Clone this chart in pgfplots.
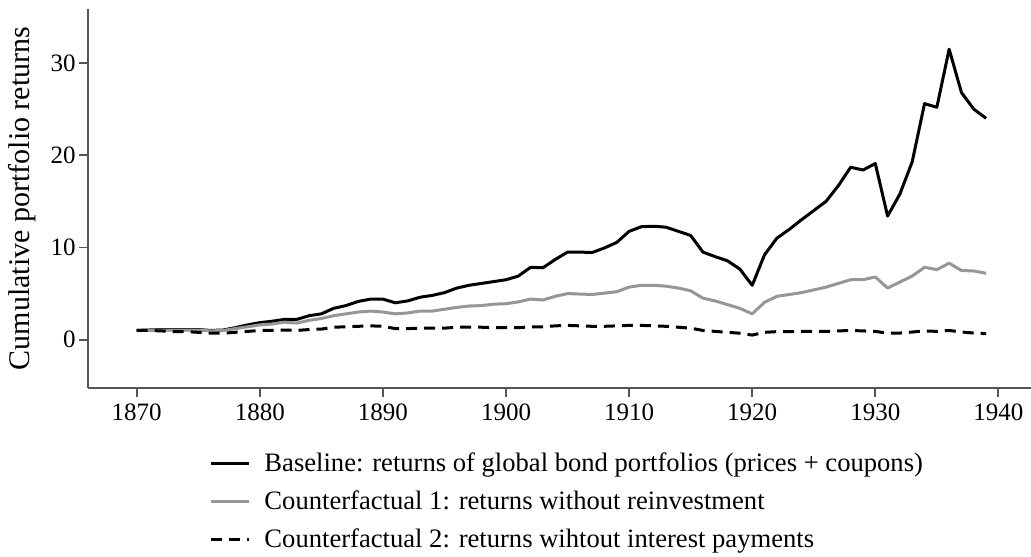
\documentclass[border=0pt]{standalone}
\usepackage{fontspec}
\setmainfont{Liberation Serif}
\usepackage{pgfplots}
\usepackage{pgfplotstable}
\pgfplotsset{compat=1.18}
\definecolor{axgray}{RGB}{85,85,85}
\definecolor{cfgray}{RGB}{150,150,150}

% year, baseline, counterfactual 1, counterfactual 2
\pgfplotstableread{
year base cfa cfb
1870 1.0 1.0 1.0
1871 1.05 1.0 1.0
1872 1.1 1.05 0.95
1873 1.1 1.05 0.87
1874 1.1 1.05 0.87
1875 1.1 1.05 0.8
1876 1.0 0.95 0.7
1877 1.05 1.0 0.7
1878 1.3 1.2 0.8
1879 1.6 1.4 0.9
1880 1.85 1.6 1.0
1881 2.0 1.7 1.0
1882 2.2 1.9 1.05
1883 2.2 1.8 1.0
1884 2.6 2.1 1.1
1885 2.8 2.3 1.15
1886 3.4 2.6 1.35
1887 3.7 2.8 1.4
1888 4.15 3.0 1.45
1889 4.4 3.1 1.5
1890 4.4 3.0 1.45
1891 4.0 2.8 1.2
1892 4.2 2.9 1.2
1893 4.6 3.1 1.25
1894 4.8 3.1 1.25
1895 5.1 3.3 1.25
1896 5.6 3.5 1.35
1897 5.9 3.65 1.35
1898 6.1 3.7 1.35
1899 6.3 3.85 1.3
1900 6.5 3.9 1.3
1901 6.9 4.1 1.3
1902 7.85 4.4 1.4
1903 7.8 4.3 1.4
1904 8.7 4.7 1.5
1905 9.5 5.0 1.55
1906 9.5 4.95 1.5
1907 9.45 4.9 1.45
1908 9.95 5.05 1.45
1909 10.55 5.2 1.5
1910 11.75 5.7 1.55
1911 12.25 5.9 1.55
1912 12.3 5.9 1.5
1913 12.2 5.8 1.45
1914 11.75 5.6 1.35
1915 11.3 5.3 1.25
1916 9.5 4.5 1.0
1917 9.0 4.2 0.9
1918 8.55 3.8 0.8
1919 7.65 3.4 0.7
1920 5.9 2.8 0.5
1921 9.2 4.05 0.8
1922 11.0 4.7 0.87
1923 11.95 4.9 0.87
1924 13.0 5.1 0.9
1925 14.0 5.4 0.9
1926 15.0 5.7 0.9
1927 16.7 6.1 0.95
1928 18.7 6.5 1.0
1929 18.4 6.5 0.95
1930 19.1 6.8 0.9
1931 13.4 5.6 0.7
1932 15.8 6.25 0.72
1933 19.3 6.9 0.83
1934 25.6 7.85 0.95
1935 25.2 7.6 0.9
1936 31.5 8.3 1.0
1937 26.8 7.5 0.83
1938 25.0 7.45 0.72
1939 24.0 7.2 0.65
}\returns

\begin{document}
\begin{tikzpicture}
\useasboundingbox (-44pt,-84pt) rectangle (471.5pt,194pt);
\begin{axis}[
  at={(0pt,0pt)}, anchor=south west,
  scale only axis,
  width=471.5pt, height=189.5pt,
  xmin=1866.04, xmax=1942.65,
  ymin=-5.24, ymax=35.86,
  xtick={1870,1880,...,1940},
  ytick={0,10,20,30},
  axis x line*=bottom, axis y line*=left,
  axis line style={draw=axgray, line width=0.9pt},
  tick style={draw=axgray, line width=0.9pt},
  tick align=outside,
  major tick length=4.5pt,
  x tick label style={/pgf/number format/1000 sep={}},
  y tick label style={inner sep=1.5pt},
  /pgf/number format/assume math mode=true,
  tick label style={font=\fontsize{12.5}{15}\selectfont},
  ylabel={Cumulative portfolio returns},
  ylabel style={font=\fontsize{15}{18}\selectfont},
  ylabel shift=2.5pt,
  legend style={
    at={(0.1284,-0.158)}, anchor=north west,
    draw=none, fill=none,
    font=\fontsize{13.3}{16}\selectfont,
    row sep=4.25pt, column sep=0pt,
    inner sep=0pt,
    cells={anchor=west},
  },
  legend image code/.code={\draw[#1] (0pt,0pt) -- (19pt,0pt);},
  legend columns=1,
]
\addplot[black, line width=1.5pt, line join=round] table[x=year, y=base] {\returns};
\addlegendentry{\hspace{5pt}Baseline: returns of global bond portfolios (prices + coupons)}
\addplot[cfgray, line width=1.5pt, line join=round] table[x=year, y=cfa] {\returns};
\addlegendentry{\hspace{5pt}Counterfactual 1: returns without reinvestment}
\addplot[black, line width=1.5pt, dash pattern=on 5.5pt off 3.5pt] table[x=year, y=cfb] {\returns};
\addlegendentry{\hspace{5pt}Counterfactual 2: returns wihtout interest payments}
\end{axis}
\end{tikzpicture}
\end{document}
